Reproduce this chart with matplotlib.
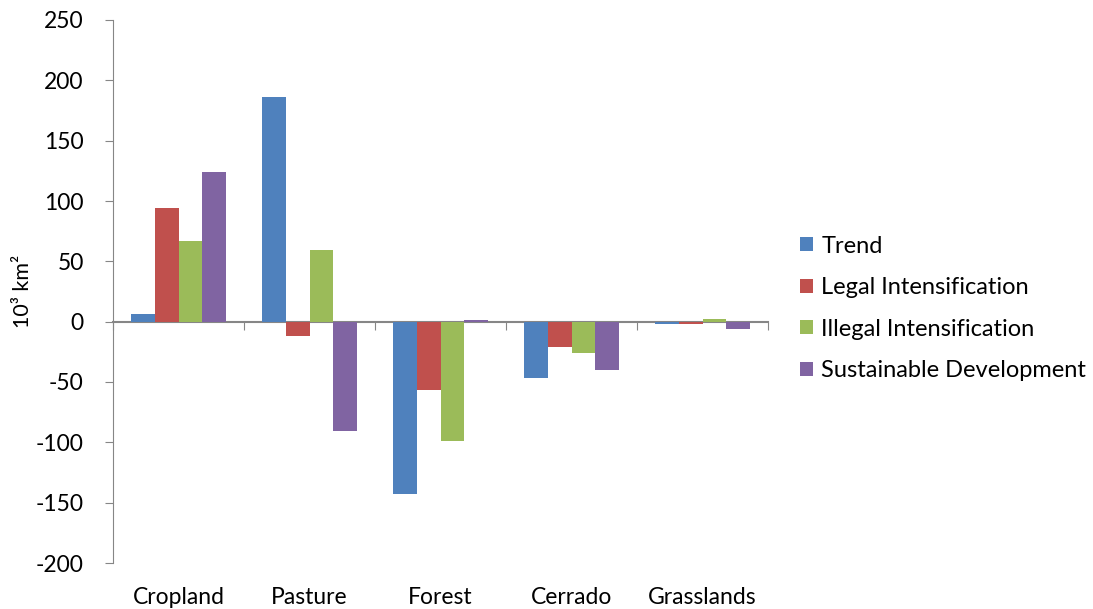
import numpy as np
import matplotlib
matplotlib.use("Agg")
import matplotlib.pyplot as plt

plt.rcParams['font.family'] = ['Lato', 'DejaVu Sans']

categories = ["Cropland", "Pasture", "Forest", "Cerrado", "Grasslands"]
series_names = ["Trend", "Legal Intensification", "Illegal Intensification",
                "Sustainable Development"]
trend = [6, 186, -143, -47, -2]
legal = [94, -12, -57, -21, -2]
illegal = [67, 59, -99, -26, 2]
sustainable = [124, -91, 1, -40, -6]
y_ticks = [-200, -150, -100, -50, 0, 50, 100, 150, 200, 250]
y_label = "10³ km²"

series = [trend, legal, illegal, sustainable]
colors = ["#4F81BD", "#C0504D", "#9BBB59", "#8064A2"]
axis_gray = "#868686"

fig = plt.figure(figsize=(10.93, 6.09), dpi=100)
ax = fig.add_axes([113 / 1093, 1 - 563 / 609, (768 - 113) / 1093, (563 - 20) / 609])

x = np.arange(len(categories))
bar_w = 0.183
offsets = (np.arange(len(series)) - (len(series) - 1) / 2) * bar_w
for vals, off, col, name in zip(series, offsets, colors, series_names):
    ax.bar(x + off, vals, width=bar_w, color=col, label=name, zorder=2)

ax.set_xlim(-0.5, len(categories) - 0.5)
ax.set_ylim(y_ticks[0], y_ticks[-1])
ax.set_yticks(y_ticks)
ax.set_yticklabels([str(t) for t in y_ticks])
ax.set_xticks(x)
ax.set_xticklabels(categories)

for s in ["top", "right", "bottom"]:
    ax.spines[s].set_visible(False)
ax.spines["left"].set_color(axis_gray)
ax.tick_params(axis="y", direction="out", length=6, color=axis_gray,
               labelsize=16.5, pad=15, labelcolor="black")
ax.tick_params(axis="x", length=0, labelsize=16.5, pad=17, labelcolor="black")

# category axis crossing at zero with boundary tick marks
zero_axis = ax.secondary_xaxis(0, transform=ax.transData)
zero_axis.set_xticks(np.arange(len(categories) + 1) - 0.5)
zero_axis.set_xticklabels([])
zero_axis.tick_params(direction="out", length=6, color=axis_gray)
zero_axis.spines["bottom"].set_color(axis_gray)
zero_axis.spines["bottom"].set_linewidth(1.5)

ax.set_ylabel(y_label, fontsize=15.5, labelpad=2)

leg = ax.legend(loc="center left", bbox_to_anchor=(1.049, 0.469), frameon=False,
                fontsize=17, handlelength=0.55, handleheight=0.55,
                handletextpad=0.35, labelspacing=0.87, borderpad=0,
                borderaxespad=0)

fig.savefig("out.png", dpi=100)
